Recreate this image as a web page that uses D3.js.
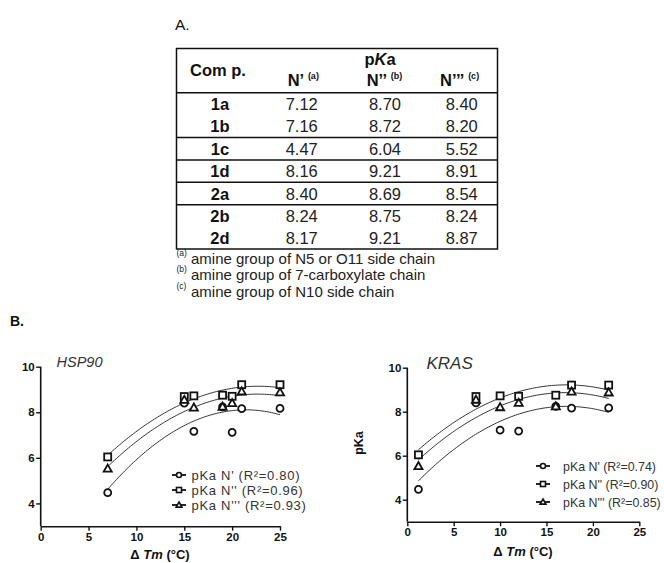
<!DOCTYPE html>
<html><head><meta charset="utf-8">
<script src="https://cdn.jsdelivr.net/npm/d3@7"></script>
<style>
html,body{margin:0;padding:0;background:#fff;}
svg{display:block;font-family:"Liberation Sans",Arial,sans-serif;}
</style></head>
<body><svg id="c" width="664" height="563"></svg>
<script>
// ---- data ----
const compounds = ["1a","1b","1c","1d","2a","2b","2d"];
const pkaN1 = [7.12,7.16,4.47,8.16,8.40,8.24,8.17];
const pkaN2 = [8.70,8.72,6.04,9.21,8.69,8.75,9.21];
const pkaN3 = [8.40,8.20,5.52,8.91,8.54,8.24,8.87];
const dTmHSP90 = [20,16,7,21,15,19,25];
const dTmKRAS = [12,10,1.2,17.7,7.4,16,21.7];
const r2HSP90 = ["0.80","0.96","0.93"];
const r2KRAS = ["0.74","0.90","0.85"];
const seriesNames = ["N'","N''","N'''"];
const headerNames = ["N\u2019","N\u2019\u2019","N\u2019\u2019\u2019"];
const headerNotes = ["(a)","(b)","(c)"];
const footnotes = ["amine group of N5 or O11 side chain","amine group of 7-carboxylate chain","amine group of N10 side chain"];
const xTicks = [0,5,10,15,20,25];
const yTicks = [4,6,8,10];

const svg = d3.select("#c");
const ink = "#111";

// ---------- Panel A: table ----------
svg.append("text").attr("x",175).attr("y",29.5).attr("font-size",15.5).attr("fill",ink).text("A.");
const tbl = svg.append("g");
const tL=176.5, tR=497.5, tT=48.5, tB=249;
tbl.append("rect").attr("x",tL).attr("y",tT).attr("width",tR-tL).attr("height",tB-tT)
  .attr("fill","none").attr("stroke",ink).attr("stroke-width",1.5);
const rowY = d3.scalePoint().domain(compounds).range([104,238.3]);
const sepAfter = ["1b","1c","1d","2a"];
const hLines=[92.7].concat(sepAfter.map(c=>rowY(c)+ (rowY.step()/2)));
tbl.selectAll("line.h").data(hLines).enter().append("line")
  .attr("x1",tL).attr("x2",tR).attr("y1",d=>d).attr("y2",d=>d).attr("stroke",ink).attr("stroke-width",1.5);
const colX=[220,301.7,385,461.7];
tbl.append("text").attr("x",218).attr("y",76).attr("text-anchor","middle").attr("font-size",16.5)
  .attr("font-weight","bold").attr("fill",ink).text("Com p.");
const pk = tbl.append("text").attr("x",380).attr("y",64.5).attr("text-anchor","middle").attr("font-size",16.5)
  .attr("font-weight","bold").attr("fill",ink);
pk.append("tspan").text("p"); pk.append("tspan").attr("font-style","italic").text("K"); pk.append("tspan").text("a");
const hdrStart=[287.7,366.7,440];
headerNames.forEach((n,i)=>{
  const t=tbl.append("text").attr("x",hdrStart[i]).attr("y",86).attr("font-size",16.5).attr("font-weight","bold").attr("fill",ink);
  t.append("tspan").text(n+" ");
  t.append("tspan").attr("font-size",9).attr("dy",-7).text(headerNotes[i]);
});
const rows = compounds.map((c,i)=>({c, v:[pkaN1[i],pkaN2[i],pkaN3[i]]}));
rows.forEach(r=>{
  const y=rowY(r.c)+6;
  tbl.append("text").attr("x",colX[0]).attr("y",y).attr("text-anchor","middle").attr("font-size",16.5)
    .attr("font-weight","bold").attr("fill",ink).text(r.c);
  r.v.forEach((v,j)=>{
    tbl.append("text").attr("x",colX[j+1]).attr("y",y).attr("text-anchor","middle").attr("font-size",16.5)
      .attr("fill","#222").text(v.toFixed(2));
  });
});
footnotes.forEach((f,i)=>{
  const y=264+i*16.4;
  tbl.append("text").attr("x",176.5).attr("y",y-8).attr("font-size",8.5).attr("fill","#222").text(headerNotes[i]);
  tbl.append("text").attr("x",191).attr("y",y).attr("font-size",15).attr("fill","#222").text(f);
});

// ---------- Panel B ----------
svg.append("text").attr("x",10).attr("y",326).attr("font-size",14).attr("font-weight","bold").attr("fill",ink).text("B.");

function quadFit(xs, ys){
  const S=[0,0,0,0,0], T=[0,0,0];
  xs.forEach((x,i)=>{ for(let k=0;k<5;k++) S[k]+=Math.pow(x,k); for(let k=0;k<3;k++) T[k]+=ys[i]*Math.pow(x,k); });
  const A=[[S[0],S[1],S[2],T[0]],[S[1],S[2],S[3],T[1]],[S[2],S[3],S[4],T[2]]];
  for(let i=0;i<3;i++){
    for(let j=i+1;j<3;j++){ const f=A[j][i]/A[i][i]; for(let k=i;k<4;k++) A[j][k]-=f*A[i][k]; }
  }
  const c=[0,0,0];
  for(let i=2;i>=0;i--){ let s=A[i][3]; for(let k=i+1;k<3;k++) s-=A[i][k]*c[k]; c[i]=s/A[i][i]; }
  return x=>c[0]+c[1]*x+c[2]*x*x;
}

const markers = [
  (g,s)=>g.append("circle").attr("r",s*0.5),
  (g,s)=>g.append("rect").attr("x",-s*0.5).attr("y",-s*0.5).attr("width",s).attr("height",s),
  (g,s)=>g.append("path").attr("d",`M0,${-s*0.6}L${s*0.58},${s*0.42}L${-s*0.58},${s*0.42}Z`)
];

function panel(cfg){
  const x=d3.scaleLinear().domain([0,25]).range(cfg.xr);
  const y=d3.scaleLinear().domain([3,10]).range(cfg.yr);
  const g=svg.append("g");
  const xa=g.append("g").attr("transform",`translate(0,${cfg.yr[0]})`)
    .call(d3.axisBottom(x).tickValues(xTicks).tickFormat(d3.format("d")).tickSize(4.5).tickPadding(2).tickSizeOuter(0));
  const ya=g.append("g").attr("transform",`translate(${cfg.xr[0]},0)`)
    .call(d3.axisLeft(y).tickValues(yTicks).tickFormat(d3.format("d")).tickSize(4.5).tickPadding(1.5).tickSizeOuter(0));
  [xa,ya].forEach(a=>{
    a.select(".domain").attr("stroke",ink).attr("stroke-width",1.6);
    a.selectAll(".tick line").attr("stroke",ink).attr("stroke-width",1.4);
    a.selectAll(".tick text").attr("font-size",11.5).attr("font-weight","bold").attr("fill",ink)
      .attr("font-family","Liberation Sans, Arial, sans-serif");
  });
  ya.select(".domain").attr("d",`M0,${cfg.yr[0]}V${cfg.yr[1]}`);
  // title
  g.append("text").attr("x",cfg.titleX).attr("y",cfg.titleY).attr("font-size",cfg.titleSize)
    .attr("font-style","italic").attr("fill","#333").text(cfg.title);
  // x label
  const xl=g.append("text").attr("x",cfg.xlabX).attr("y",cfg.xlabY).attr("text-anchor","middle")
    .attr("font-size",13).attr("font-weight","bold").attr("fill",ink);
  xl.append("tspan").text("\u0394 "); xl.append("tspan").attr("font-style","italic").text("Tm");
  xl.append("tspan").text(" (\u00B0C)");
  if(cfg.ylab){
    g.append("text").attr("transform",`translate(${cfg.ylabX},${cfg.ylabY}) rotate(-90)`)
      .attr("text-anchor","middle").attr("font-size",12.5).attr("font-weight","bold").attr("fill",ink).text(cfg.ylab);
  }
  const series=[pkaN1,pkaN2,pkaN3];
  const xmin=d3.min(cfg.dTm), xmax=d3.max(cfg.dTm);
  series.forEach((ys,si)=>{
    const f=quadFit(cfg.dTm, ys);
    const pts=d3.range(0,101).map(i=>xmin+(xmax-xmin)*i/100);
    g.append("path").datum(pts).attr("fill","none").attr("stroke","#333").attr("stroke-width",1)
      .attr("d",d3.line().x(d=>x(d)).y(d=>y(f(d))));
  });
  series.forEach((ys,si)=>{
    cfg.dTm.forEach((dx,i)=>{
      const m=g.append("g").attr("transform",`translate(${x(dx)},${y(ys[i])})`);
      markers[si](m,7).attr("fill","#fff").attr("stroke",ink).attr("stroke-width",1.8);
    });
  });
  // legend
  cfg.r2.forEach((r,i)=>{
    const ly=cfg.legY[i];
    g.append("line").attr("x1",cfg.legX).attr("x2",cfg.legX+14).attr("y1",ly).attr("y2",ly)
      .attr("stroke",ink).attr("stroke-width",1.8);
    const m=g.append("g").attr("transform",`translate(${cfg.legX+7},${ly})`);
    markers[i](m,5).attr("fill","#fff").attr("stroke",ink).attr("stroke-width",1.6);
    g.append("text").attr("x",cfg.legTextX).attr("y",ly+4.5).attr("font-size",cfg.legSize)
      .attr("letter-spacing",cfg.ls).attr("fill","#333").style("white-space","pre")
      .text("pKa "+seriesNames[i]+cfg.gap+"(R\u00B2="+r+")");
  });
}

panel({title:"HSP90", titleX:56.5, titleY:367, titleSize:14.5,
  xr:[40.7,280], yr:[526.2,366.7], dTm:dTmHSP90, r2:r2HSP90,
  xlabX:160, xlabY:559, legX:172, legTextX:191.5, legY:[475,490,505], legSize:13, ls:0.7, gap:" "});
panel({title:"KRAS", titleX:426.5, titleY:369, titleSize:17,
  xr:[407.3,639.3], yr:[521.7,367.7], dTm:dTmKRAS, r2:r2KRAS,
  xlabX:523, xlabY:556, ylab:"pKa", ylabX:363, ylabY:443,
  legX:536, legTextX:563, legY:[466,484,502], legSize:12.4, ls:0, gap:" "});
</script></body></html>
